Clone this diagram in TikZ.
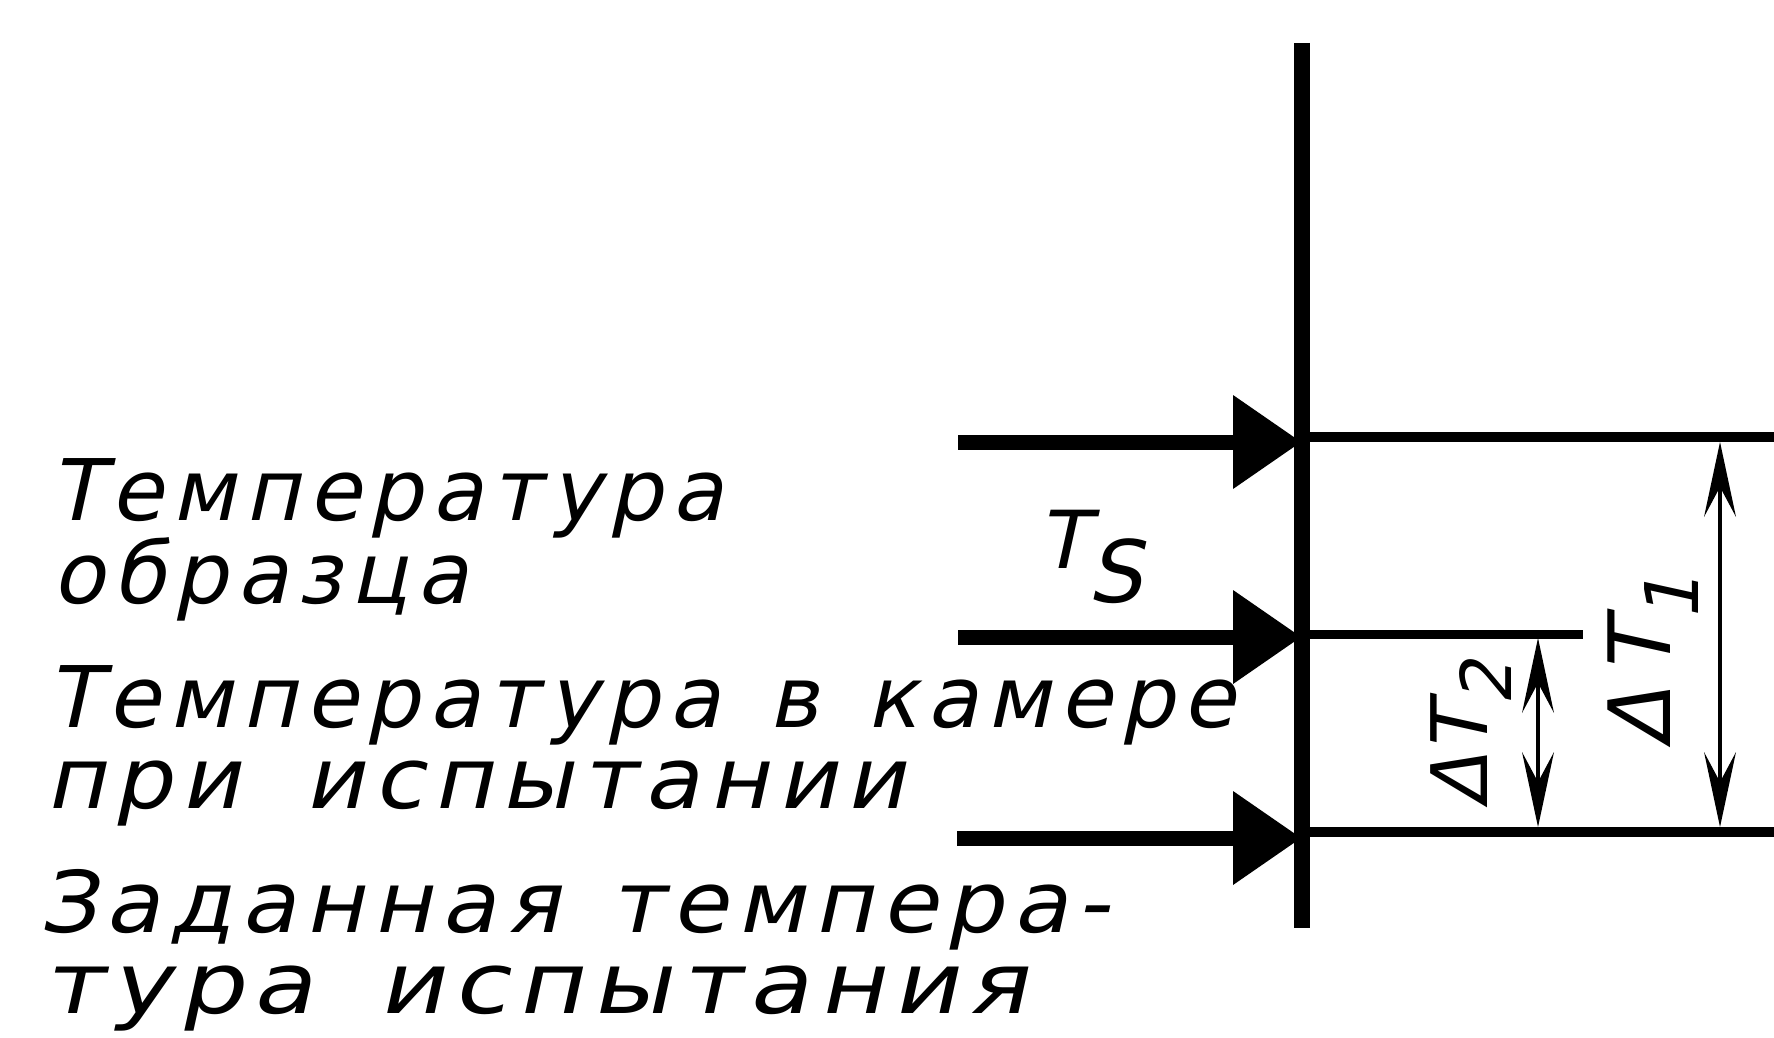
\documentclass[tikz,border=0pt]{standalone}
\usepackage{fontspec}
\usetikzlibrary{arrows.meta}
\newfontfamily\gost[FakeSlant=0.22,LetterSpace=10,WordSpace=1.35]{DejaVu Sans}
\begin{document}
\begin{tikzpicture}[x=1pt,y=-1pt,
  txt/.style={anchor=base west,inner sep=0pt,font=\gost\fontsize{85}{90}\selectfont},
  dimlbl/.style={anchor=base,inner sep=0pt,rotate=90},
  heavy/.style={line width=15pt},
  rline/.style={line width=10pt},
  inarrow/.style={heavy,-{Triangle[length=68pt,width=94pt,line width=0pt]}},
  dimline/.style={line width=4.5pt,{Stealth[length=75pt,width=32pt,inset=30pt,line width=0pt]}-{Stealth[length=75pt,width=32pt,inset=30pt,line width=0pt]}}]
\useasboundingbox (0,0) rectangle (1774,1038);
% vertical line
\coordinate (vtop) at (1302,43);
\coordinate (vbot) at (1302,928);
\draw[line width=16pt] (vtop) -- (vbot);
% incoming arrows
\coordinate (a1) at (958,442);  \coordinate (a1t) at (1301,442);
\coordinate (a2) at (958,637);  \coordinate (a2t) at (1301,637);
\coordinate (a3) at (957,838);  \coordinate (a3t) at (1301,838);
\draw[inarrow] (a1) -- (a1t);
\draw[inarrow] (a2) -- (a2t);
\draw[inarrow] (a3) -- (a3t);
% right lines
\coordinate (r1s) at (1302,437); \coordinate (r1e) at (1774,437);
\coordinate (r2s) at (1302,634); \coordinate (r2e) at (1583,634);
\coordinate (r3s) at (1302,832); \coordinate (r3e) at (1774,832);
\draw[rline] (r1s) -- (r1e);
\draw[line width=9pt] (r2s) -- (r2e);
\draw[rline] (r3s) -- (r3e);
% dimension lines
\coordinate (d1t) at (1720,442); \coordinate (d1b) at (1720,827);
\coordinate (d2t) at (1538,638); \coordinate (d2b) at (1538,827);
\draw[dimline] (d1t) -- (d1b);
\draw[dimline] (d2t) -- (d2b);
% dimension labels
\node[dimlbl,font=\gost\fontsize{86}{90}\selectfont] (dT1) at (1670,662)
  {Δ\kern14pt T\raisebox{-28pt}{\fontsize{74}{74}\selectfont 1}};
\node[dimlbl,font=\gost\fontsize{78}{80}\selectfont] (dT2) at (1487,735)
  {Δ\kern2pt T\raisebox{-24pt}{\fontsize{70}{70}\selectfont 2}};
% T_S
\node[anchor=base west,inner sep=0pt,font=\gost\fontsize{80}{80}\selectfont] (ts) at (1038,568)
  {T\raisebox{-34pt}{\fontsize{86}{86}\selectfont S}};
% texts
\node[txt] (l1) at (50,520) {Температура};
\node[txt] (l2) at (52,603) {образца};
\node[txt] (l3) at (47,727) {Температура в камере};
\node[txt] (l4) at (45,808) {\addfontfeature{FakeStretch=1.08}при\hspace{14pt} испытании};
\node[txt] (l5) at (38,932) {\addfontfeature{FakeStretch=1.07}Заданная темпера-};
\node[txt] (l6) at (43,1013) {\addfontfeature{FakeStretch=1.19}тура\hspace{10pt} испытания};
\end{tikzpicture}
\end{document}
